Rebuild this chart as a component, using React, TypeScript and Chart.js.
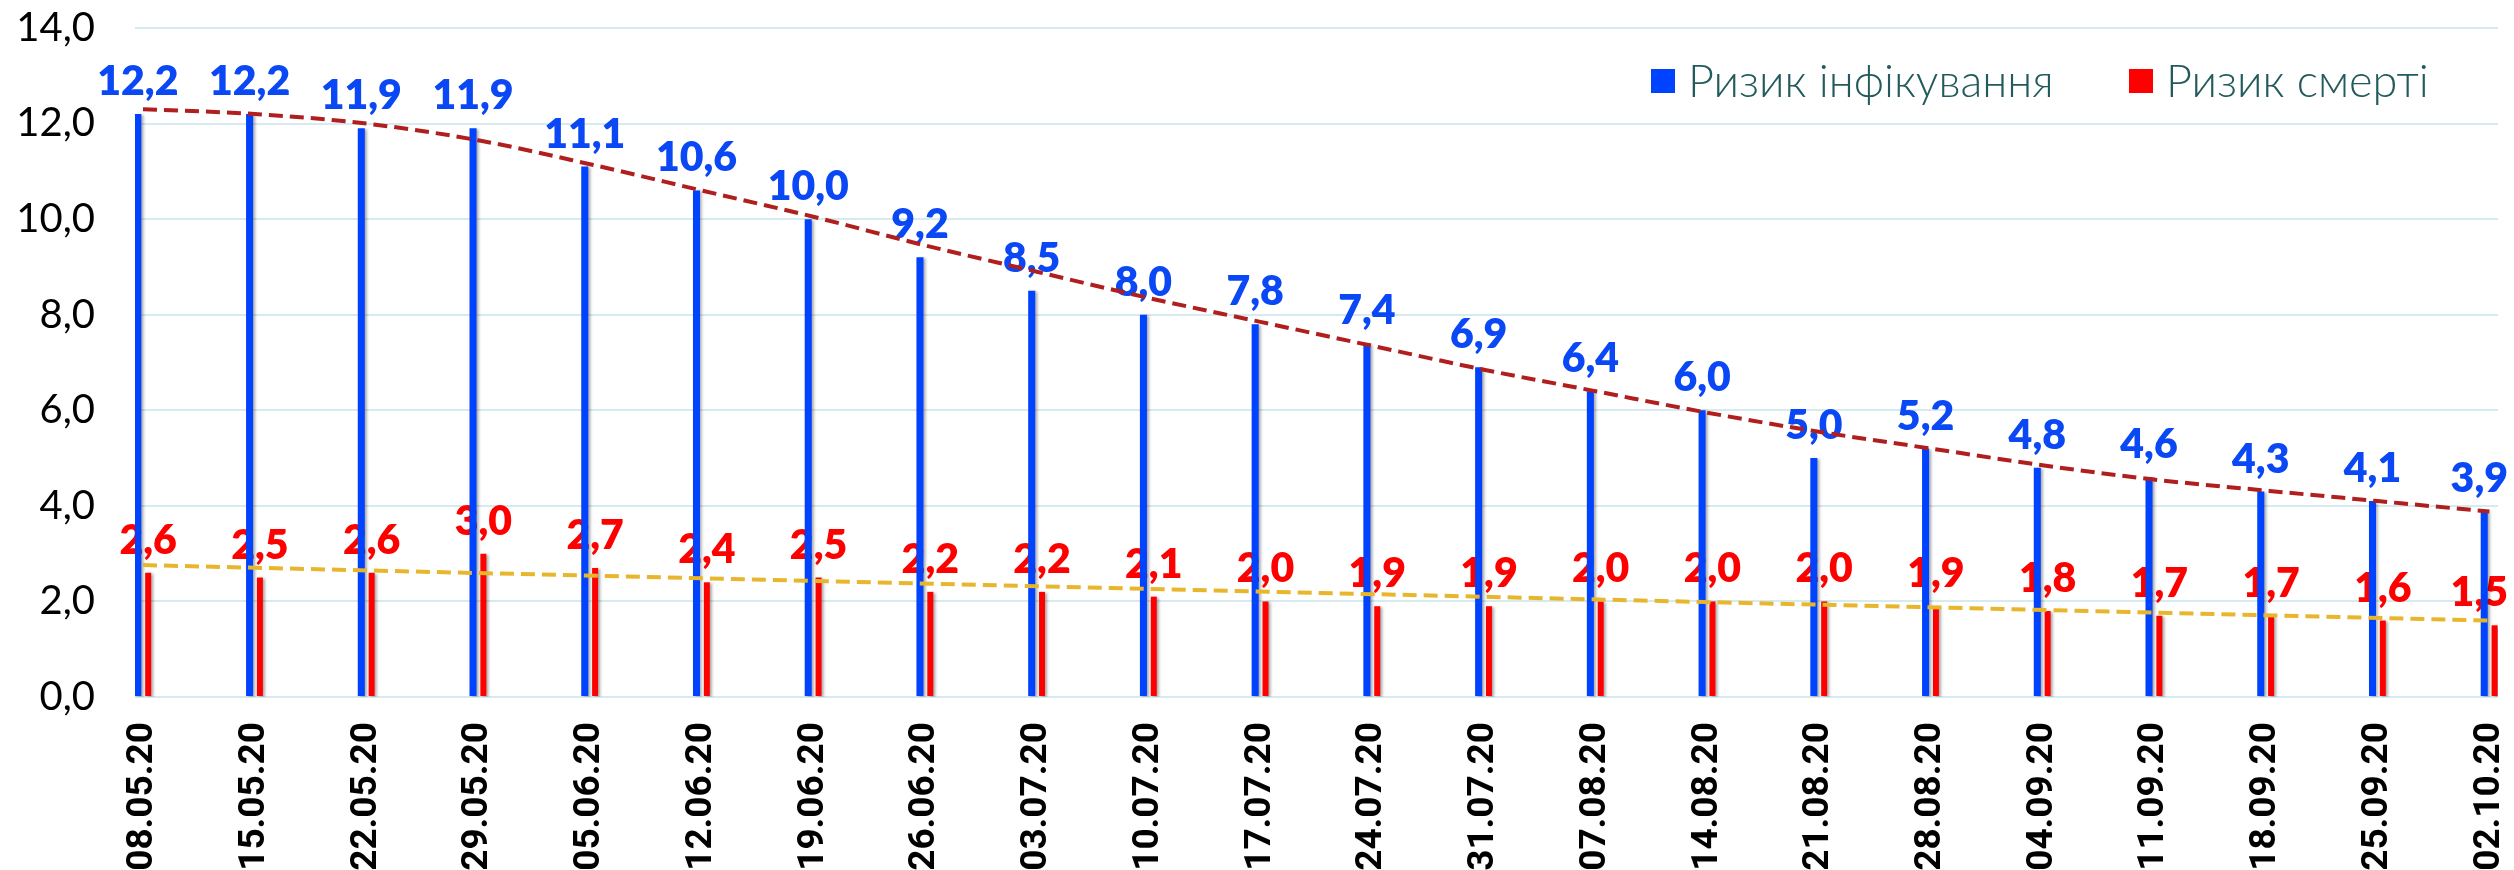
import React, { useEffect, useRef } from 'react';
import { Chart, registerables } from 'chart.js';

Chart.register(...registerables);

const dates = [
  '08.05.20', '15.05.20', '22.05.20', '29.05.20', '05.06.20', '12.06.20', '19.06.20', '26.06.20',
  '03.07.20', '10.07.20', '17.07.20', '24.07.20', '31.07.20', '07.08.20', '14.08.20', '21.08.20',
  '28.08.20', '04.09.20', '11.09.20', '18.09.20', '25.09.20', '02.10.20',
];
const infectionRisk = [12.2, 12.2, 11.9, 11.9, 11.1, 10.6, 10.0, 9.2, 8.5, 8.0, 7.8, 7.4, 6.9, 6.4, 6.0, 5.0, 5.2, 4.8, 4.6, 4.3, 4.1, 3.9];
const deathRisk = [2.6, 2.5, 2.6, 3.0, 2.7, 2.4, 2.5, 2.2, 2.2, 2.1, 2.0, 1.9, 1.9, 2.0, 2.0, 2.0, 1.9, 1.8, 1.7, 1.7, 1.6, 1.5];
// trend lines
const infectionTrend = [12.3, 12.2, 12.0, 11.65, 11.15, 10.6, 10.05, 9.45, 8.9, 8.35, 7.85, 7.35, 6.85, 6.4, 5.95, 5.55, 5.2, 4.85, 4.55, 4.32, 4.1, 3.88];
const deathTrendStartEnd = [2.76, 1.6];
const yTicks = [0, 2, 4, 6, 8, 10, 12, 14];
const seriesNames = ['Ризик інфікування', 'Ризик смерті'];

const BLUE = '#0043FF';
const RED = '#FF0000';
const fmt = (v: number) => v.toFixed(1).replace('.', ',');

const barDecor = {
  id: 'barDecor',
  beforeDatasetDraw(chart: any, args: any) {
    const meta = chart.getDatasetMeta(args.index);
    if (meta.type !== 'bar') return;
    const ctx = chart.ctx;
    ctx.save();
    ctx.shadowColor = 'rgba(0,0,0,0.35)';
    ctx.shadowOffsetX = 2;
    ctx.shadowOffsetY = 1;
    ctx.shadowBlur = 3;
  },
  afterDatasetDraw(chart: any, args: any) {
    const meta = chart.getDatasetMeta(args.index);
    if (meta.type !== 'bar') return;
    const ctx = chart.ctx;
    ctx.restore();
    const ds = chart.data.datasets[args.index];
    ctx.save();
    ctx.font = '800 41px Lato, "Noto Sans", sans-serif';
    ctx.fillStyle = ds.labelColor;
    ctx.textAlign = 'center';
    ctx.textBaseline = 'alphabetic';
    meta.data.forEach((el: any, i: number) => {
      const text = fmt(ds.data[i].y);
      const half = ctx.measureText(text).width / 2;
      const x = Math.min(el.x, chart.width - 6 - half);
      ctx.fillText(text, x, el.y - 19);
    });
    ctx.restore();
  },
};

const legendPlugin = {
  id: 'customLegend',
  afterDraw(chart: any) {
    const ctx = chart.ctx;
    ctx.save();
    ctx.font = '300 45px Lato, "Noto Sans", sans-serif';
    ctx.textBaseline = 'middle';
    ctx.textAlign = 'left';
    const items = [
      { box: 1651, text: 1688, color: BLUE, label: seriesNames[0] },
      { box: 2129, text: 2166, color: RED, label: seriesNames[1] },
    ];
    items.forEach((it) => {
      ctx.fillStyle = it.color;
      ctx.fillRect(it.box, 69, 24, 24);
      ctx.fillStyle = '#235A5C';
      ctx.fillText(it.label, it.text, 82);
    });
    ctx.restore();
  },
};

export default function App() {
  const ref = useRef<HTMLCanvasElement | null>(null);
  useEffect(() => {
    document.body.style.margin = '0';
    if (!ref.current) return;
    const chart = new Chart(ref.current, {
      type: 'bar',
      data: {
        datasets: [
          {
            type: 'bar',
            label: seriesNames[0],
            data: infectionRisk.map((v, i) => ({ x: i, y: v })),
            backgroundColor: BLUE,
            barPercentage: 0.68,
            categoryPercentage: 0.185,
            labelColor: '#0A47F5',
          } as any,
          {
            type: 'bar',
            label: seriesNames[1],
            data: deathRisk.map((v, i) => ({ x: i, y: v })),
            backgroundColor: RED,
            barPercentage: 0.58,
            categoryPercentage: 0.185,
            labelColor: '#FF0000',
          } as any,
          {
            type: 'line',
            label: 'trend1',
            data: infectionTrend.map((v, i) => ({ x: i, y: v })),
            borderColor: '#B01E1E',
            borderWidth: 4,
            borderDash: [14, 7],
            pointRadius: 0,
            cubicInterpolationMode: 'monotone',
            order: -1,
          } as any,
          {
            type: 'line',
            label: 'trend2',
            data: [
              { x: 0, y: deathTrendStartEnd[0] },
              { x: dates.length - 1, y: deathTrendStartEnd[1] },
            ],
            borderColor: '#E8B62C',
            borderWidth: 4,
            borderDash: [14, 7],
            pointRadius: 0,
            order: -1,
          } as any,
        ],
      },
      options: {
        animation: false,
        responsive: true,
        maintainAspectRatio: false,
        devicePixelRatio: 1,
        layout: { padding: { left: 0, right: 16, top: 28, bottom: 0 } },
        plugins: { legend: { display: false }, tooltip: { enabled: false } },
        scales: {
          x: {
            type: 'linear',
            min: -0.0716,
            max: 21.077,
            offset: false,
            grid: { display: false, drawTicks: false },
            border: { display: false },
            afterBuildTicks: (axis: any) => {
              axis.ticks = dates.map((_, i) => ({ value: i }));
            },
            afterFit: (s: any) => {
              s.height = 173;
              s.paddingLeft = 0;
              s.paddingRight = 0;
            },
            ticks: {
              autoSkip: false,
              minRotation: 90,
              maxRotation: 90,
              padding: 25,
              color: '#000',
              font: { family: 'Roboto, "Liberation Sans", sans-serif', size: 37, weight: 'bold' },
              callback: (v: any) => dates[v] ?? '',
            },
          },
          y: {
            min: 0,
            max: 14,
            afterBuildTicks: (axis: any) => {
              axis.ticks = yTicks.map((v) => ({ value: v }));
            },
            afterFit: (s: any) => {
              s.width = 135;
              s.paddingTop = 0;
              s.paddingBottom = 0;
            },
            grid: { color: '#D6EBF0', lineWidth: 2, drawTicks: false },
            border: { display: false },
            ticks: {
              padding: 40,
              color: '#000',
              font: { family: 'Lato, "Noto Sans", sans-serif', size: 40 },
              callback: (v: any) => fmt(Number(v)),
            },
          },
        },
      } as any,
      plugins: [barDecor, legendPlugin],
    });
    return () => chart.destroy();
  }, []);
  return (
    <div style={{ width: 2514, height: 870, position: 'relative' }}>
      <canvas ref={ref} />
    </div>
  );
}
